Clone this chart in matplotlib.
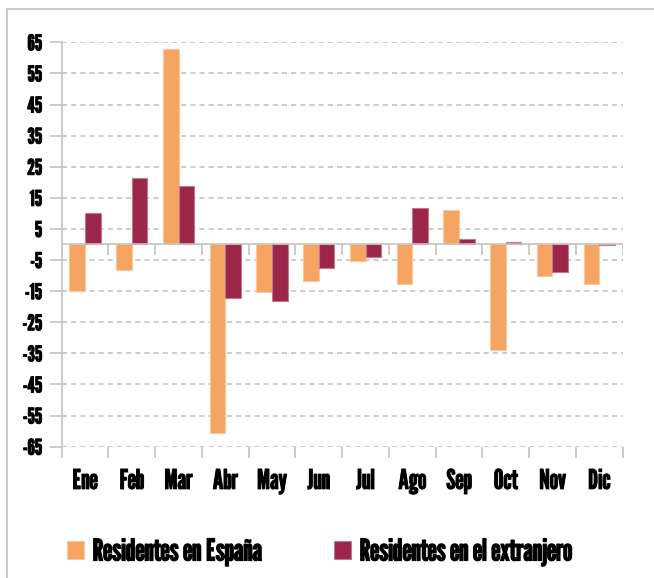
import numpy as np
import matplotlib.pyplot as plt
import matplotlib.patheffects as pe
from matplotlib.patches import Rectangle

meses = ["Ene", "Feb", "Mar", "Abr", "May", "Jun", "Jul", "Ago", "Sep", "Oct", "Nov", "Dic"]
espana = [-15.0, -8.3, 62.8, -60.7, -15.3, -11.6, -5.3, -12.6, 11.2, -33.9, -10.0, -12.6]
extranjero = [10.1, 21.5, 18.8, -17.1, -18.1, -7.7, -3.9, 11.6, 1.9, 0.8, -8.7, -0.3]
yticks = [65, 55, 45, 35, 25, 15, 5, -5, -15, -25, -35, -45, -55, -65]

naranja = "#F5A462"
granate = "#9C2649"
gris = "#c4c4c4"

plt.rcParams['font.family'] = ['League Gothic', 'DejaVu Sans']
grueso = [pe.withStroke(linewidth=0.7, foreground='black')]

fig = plt.figure(figsize=(6.54, 5.78), dpi=100)
ax = fig.add_axes([0.0943, 0.2272, 0.8577, 0.6996])

# marco exterior
fig.patches.append(Rectangle((7/654, -0.1), 1.2, 0.1 + 1 - 9/578, transform=fig.transFigure,
                             fill=False, edgecolor=gris, linewidth=1.2))

x = np.arange(len(meses))
w = 1/3
ax.bar(x - w/2, espana, w, color=naranja, edgecolor="#f8c9a0", linewidth=0.8, label="Residentes en España", zorder=3)
ax.bar(x + w/2, extranjero, w, color=granate, edgecolor="#c07a90", linewidth=0.8, label="Residentes en el extranjero", zorder=3)

ax.set_xlim(-0.5, len(meses) - 0.5)
ax.set_ylim(-65, 65)

# eje en cero con marcas entre categorías
bordes = np.arange(-0.5, len(meses), 1)
ax.axhline(0, color=gris, linewidth=1.2, zorder=4)
ax.vlines(bordes, -3.5, 0, color=gris, linewidth=1.2, zorder=4)

ax.set_yticks(yticks)
ax.set_yticklabels([str(v) for v in yticks], fontsize=15.5, path_effects=grueso)
ax.yaxis.grid(True, linestyle=(0, (3, 2.5)), color=gris, linewidth=1.2, zorder=0)
ax.tick_params(axis='y', length=9, width=1.2, color=gris, pad=5)

ax.set_xticks(bordes)
ax.set_xticklabels([])
ax.set_xticks(x, minor=True)
ax.set_xticklabels(meses, minor=True, fontsize=19.5, path_effects=grueso)
ax.tick_params(axis='x', which='major', length=8, width=1.2, color=gris)
ax.tick_params(axis='x', which='minor', length=0, pad=16)

for s in ["top", "right", "bottom"]:
    ax.spines[s].set_visible(False)
ax.spines["left"].set_color(gris)
ax.spines["left"].set_linewidth(1.2)

leg = fig.legend(loc="center", bbox_to_anchor=(0.489, 0.045), ncol=2, frameon=False,
                 fontsize=21.5, handlelength=0.57, handleheight=0.57, handletextpad=0.28,
                 columnspacing=2.4)
for t in leg.get_texts():
    t.set_path_effects([pe.withStroke(linewidth=0.9, foreground='black')])

fig.savefig("out.png", dpi=100)
